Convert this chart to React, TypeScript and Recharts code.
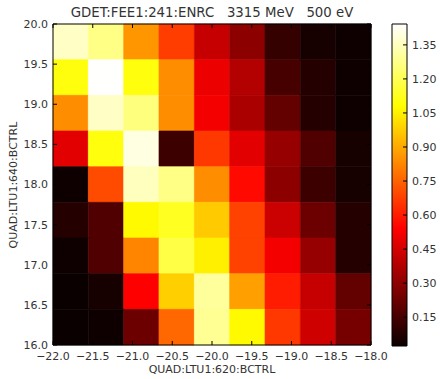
import {
  ReferenceArea,
  Scatter,
  ScatterChart,
  XAxis,
  YAxis,
} from "recharts";

// bin edges of the scan grid (9 x 9 cells)
const X_EDGES = [-22, -21.556, -21.111, -20.667, -20.222, -19.778, -19.333, -18.889, -18.444, -18];
// listed from the top row (20.0) down to the bottom row (16.0)
const Y_EDGES = [20, 19.556, 19.111, 18.667, 18.222, 17.778, 17.333, 16.889, 16.444, 16];

// GDET:FEE1:241:ENRC readings, one array per row, top row first
const ROW_0 = [1.36, 1.27, 0.86, 0.67, 0.42, 0.3, 0.11, 0.05, 0.03];
const ROW_1 = [1.1, 1.44, 1.1, 0.84, 0.5, 0.38, 0.15, 0.08, 0.03];
const ROW_2 = [0.84, 1.36, 1.26, 0.84, 0.52, 0.36, 0.21, 0.08, 0.03];
const ROW_3 = [0.48, 1.1, 1.4, 0.13, 0.66, 0.48, 0.32, 0.17, 0.05];
const ROW_4 = [0.03, 0.7, 1.35, 1.27, 0.84, 0.56, 0.3, 0.13, 0.05];
const ROW_5 = [0.08, 0.17, 1.07, 1.13, 0.97, 0.68, 0.43, 0.23, 0.08];
const ROW_6 = [0.03, 0.17, 0.82, 1.18, 1.05, 0.68, 0.52, 0.32, 0.08];
const ROW_7 = [0.02, 0.05, 0.54, 0.98, 1.3, 0.88, 0.6, 0.42, 0.21];
const ROW_8 = [0.02, 0.03, 0.23, 0.76, 1.29, 1.07, 0.66, 0.44, 0.25];
const ROWS = [ROW_0, ROW_1, ROW_2, ROW_3, ROW_4, ROW_5, ROW_6, ROW_7, ROW_8];

const X_TICKS = [-22, -21.5, -21, -20.5, -20, -19.5, -19, -18.5, -18];
const Y_TICKS = [16, 16.5, 17, 17.5, 18, 18.5, 19, 19.5, 20];
const CB_TICKS = [0.15, 0.3, 0.45, 0.6, 0.75, 0.9, 1.05, 1.2, 1.35];

const VMIN = 0.023;
const VMAX = 1.442;

const W = 440;
const H = 379;
const PLOT_TOP = 24;
const PLOT_LEFT = 53;
const PLOT_RIGHT = 371;
const PLOT_BOTTOM = 345;
const CB_LEFT = 392;
const CB_RIGHT = 407;
const FONT = "'DejaVu Sans', sans-serif";
const TEXT = "#333";

// matplotlib "hot" colormap
function hot(v: number) {
  const t = Math.min(1, Math.max(0, (v - VMIN) / (VMAX - VMIN)));
  const r = t < 0.365079 ? 0.0416 + (1 - 0.0416) * (t / 0.365079) : 1;
  const g = t < 0.365079 ? 0 : t < 0.746032 ? (t - 0.365079) / (0.746032 - 0.365079) : 1;
  const b = t < 0.746032 ? 0 : (t - 0.746032) / (1 - 0.746032);
  const c = (x: number) => Math.round(x * 255);
  return `rgb(${c(r)},${c(g)},${c(b)})`;
}

const fmt = (v: number, d: number) => v.toFixed(d).replace("-", "\u2212");

const cells = ROWS.flatMap((row, i) =>
  row.map((value, j) => ({
    x1: X_EDGES[j],
    x2: X_EDGES[j + 1],
    y1: Y_EDGES[i + 1],
    y2: Y_EDGES[i],
    xc: (X_EDGES[j] + X_EDGES[j + 1]) / 2,
    yc: (Y_EDGES[i] + Y_EDGES[i + 1]) / 2,
    value,
  }))
);

function XTick(props: any) {
  const { x, y, payload } = props;
  return (
    <g>
      <line x1={x} x2={x} y1={PLOT_BOTTOM} y2={PLOT_BOTTOM - 4} stroke="#000" />
      <line x1={x} x2={x} y1={PLOT_TOP} y2={PLOT_TOP + 4} stroke="#000" />
      <text x={x} y={y} dy="0.71em" textAnchor="middle" fontSize={11} fontFamily={FONT} fill={TEXT}>
        {fmt(payload.value, 1)}
      </text>
    </g>
  );
}

function YTick(props: any) {
  const { x, y, payload } = props;
  return (
    <g>
      <line x1={PLOT_LEFT} x2={PLOT_LEFT + 4} y1={y} y2={y} stroke="#000" />
      <line x1={PLOT_RIGHT} x2={PLOT_RIGHT - 4} y1={y} y2={y} stroke="#000" />
      <text x={x} y={y} dy="0.355em" textAnchor="end" fontSize={11} fontFamily={FONT} fill={TEXT}>
        {fmt(payload.value, 1)}
      </text>
    </g>
  );
}

function CbTick(props: any) {
  const { x, y, payload } = props;
  return (
    <g>
      <line x1={CB_RIGHT} x2={CB_RIGHT - 4} y1={y} y2={y} stroke="#000" />
      <text x={x} y={y} dy="0.355em" textAnchor="start" fontSize={11} fontFamily={FONT} fill={TEXT}>
        {payload.value.toFixed(2)}
      </text>
    </g>
  );
}

export default function App() {
  return (
    <div style={{ position: "absolute", left: 0, top: 0, width: W, height: H, background: "#fff" }}>
      <div style={{ position: "absolute", left: 0, top: 0 }}>
        <ScatterChart
          width={W}
          height={H}
          margin={{ top: PLOT_TOP, right: W - PLOT_RIGHT, bottom: 0, left: 0 }}
        >
          <XAxis
            type="number"
            dataKey="xc"
            domain={[-22, -18]}
            ticks={X_TICKS}
            interval={0}
            height={H - PLOT_BOTTOM}
            tickSize={0}
            tickMargin={7}
            axisLine={false}
            tick={<XTick />}
          />
          <YAxis
            type="number"
            dataKey="yc"
            domain={[16, 20]}
            ticks={Y_TICKS}
            interval={0}
            width={PLOT_LEFT}
            tickSize={0}
            tickMargin={5}
            axisLine={false}
            tick={<YTick />}
          />
          {cells.map((c) => (
            <ReferenceArea
              key={`${c.xc}-${c.yc}`}
              x1={c.x1}
              x2={c.x2}
              y1={c.y1}
              y2={c.y2}
              fill={hot(c.value)}
              fillOpacity={1}
              stroke={hot(c.value)}
              strokeWidth={0.6}
            />
          ))}
          <ReferenceArea x1={-22} x2={-18} y1={16} y2={20} fill="none" stroke="#000" strokeWidth={1} />
          <Scatter data={cells} isAnimationActive={false} shape={() => <g />} />
        </ScatterChart>
      </div>
      <div style={{ position: "absolute", left: 0, top: 0 }}>
        <ScatterChart
          width={W}
          height={H}
          margin={{ top: PLOT_TOP, right: 0, bottom: H - PLOT_BOTTOM - 1, left: CB_LEFT }}
        >
          <defs>
            <linearGradient id="hotScale" x1="0" y1="1" x2="0" y2="0">
              <stop offset="0" stopColor="rgb(11,0,0)" />
              <stop offset="0.365079" stopColor="rgb(255,0,0)" />
              <stop offset="0.746032" stopColor="rgb(255,255,0)" />
              <stop offset="1" stopColor="rgb(255,255,255)" />
            </linearGradient>
          </defs>
          <XAxis type="number" dataKey="x" domain={[0, 1]} hide />
          <YAxis
            type="number"
            dataKey="v"
            orientation="right"
            domain={[VMIN, VMAX]}
            ticks={CB_TICKS}
            interval={0}
            width={W - CB_RIGHT}
            tickSize={0}
            tickMargin={5}
            axisLine={false}
            tick={<CbTick />}
          />
          <ReferenceArea x1={0} x2={1} y1={VMIN} y2={VMAX} fill="url(#hotScale)" fillOpacity={1} stroke="#000" />
          <Scatter data={[{ x: 0.5, v: 0.5 }]} isAnimationActive={false} shape={() => <g />} />
        </ScatterChart>
      </div>
      <div
        style={{
          position: "absolute",
          left: PLOT_LEFT,
          width: PLOT_RIGHT - PLOT_LEFT,
          top: 6,
          textAlign: "center",
          fontFamily: FONT,
          fontSize: 13.3,
          lineHeight: "14px",
          color: TEXT,
          whiteSpace: "pre",
        }}
      >
        {"GDET:FEE1:241:ENRC   3315 MeV   500 eV"}
      </div>
      <div
        style={{
          position: "absolute",
          left: PLOT_LEFT,
          width: PLOT_RIGHT - PLOT_LEFT,
          top: 364,
          textAlign: "center",
          fontFamily: FONT,
          fontSize: 11,
          lineHeight: "12px",
          color: TEXT,
        }}
      >
        QUAD:LTU1:620:BCTRL
      </div>
      <div
        style={{
          position: "absolute",
          left: 14 - 100,
          top: (PLOT_TOP + PLOT_BOTTOM) / 2 - 6,
          width: 200,
          textAlign: "center",
          fontFamily: FONT,
          fontSize: 11,
          lineHeight: "12px",
          color: TEXT,
          transform: "rotate(-90deg)",
        }}
      >
        QUAD:LTU1:640:BCTRL
      </div>
    </div>
  );
}
